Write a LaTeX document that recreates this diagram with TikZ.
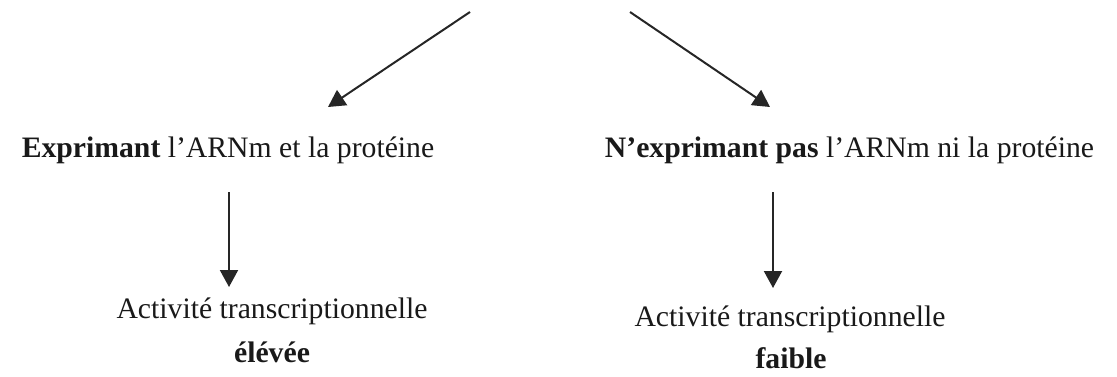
\documentclass[tikz,border=0pt]{standalone}
\usepackage{fontspec}
\setmainfont{Liberation Serif}
\usetikzlibrary{arrows.meta}

\begin{document}
\begin{tikzpicture}[
            x=1pt,
            y=-1pt,
            >={Triangle[length=17pt, width=18pt]},
            arr/.style={->, line width=2pt, draw=black!85, fill=black!85},
            txt/.style={anchor=base, inner sep=0pt, font=\fontsize{29.7}{36}\selectfont, text=black!90}
        ]

            % --- Frame ---
            \useasboundingbox (0,0) rectangle (1117,376);

            % --- Free ends of the arrows ---
            \coordinate (topL) at (470,12);
            \coordinate (topR) at (630,12);
            \coordinate (tipL) at (328,107);
            \coordinate (tipR) at (770,107);
            \coordinate (srcL) at (229,192);
            \coordinate (dstL) at (229,287);
            \coordinate (srcR) at (773,192);
            \coordinate (dstR) at (773,288);

            % --- Text ---
            \node[txt] (expr) at (228,157) {\textbf{Exprimant} l’ARNm et la protéine};
            \node[txt] (noexpr) at (849.5,157) {\textbf{N’exprimant pas} l’ARNm ni la protéine};

            \node[txt] (actL) at (272,318) {Activité transcriptionnelle};
            \node[txt] (highL) at (272,362) {\textbf{élévée}};

            \node[txt] (actR) at (790,326) {Activité transcriptionnelle};
            \node[txt] (lowR) at (791,368) {\textbf{faible}};

            % --- Arrows ---
            \draw[arr] (topL) -- (tipL);
            \draw[arr] (topR) -- (tipR);
            \draw[arr] (srcL) -- (dstL);
            \draw[arr] (srcR) -- (dstR);

        \end{tikzpicture}
\end{document}
